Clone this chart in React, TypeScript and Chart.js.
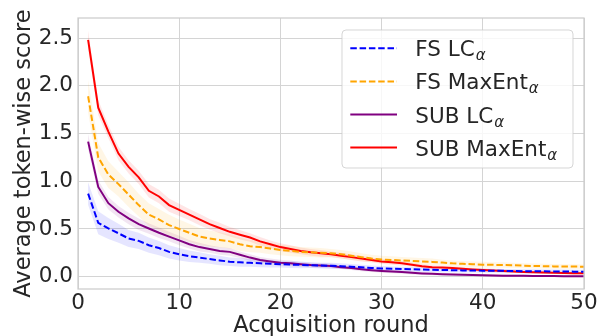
import React, { useEffect, useRef } from "react";
import { Chart, registerables } from "chart.js";

Chart.register(...registerables);

const rounds = [
  1, 2, 3, 4, 5, 6, 7, 8, 9, 10, 11, 12, 13, 14, 15, 16, 17, 18, 19, 20,
  21, 22, 23, 24, 25, 26, 27, 28, 29, 30, 31, 32, 33, 34, 35, 36, 37, 38, 39, 40,
  41, 42, 43, 44, 45, 46, 47, 48, 49, 50,
];

const xTicks = [0, 10, 20, 30, 40, 50];
const yTicks = [0, 0.5, 1.0, 1.5, 2.0, 2.5];

const seriesNames = ["FS LC", "FS MaxEnt", "SUB LC", "SUB MaxEnt"];
const seriesSub = "α";

const fsLC = [
  0.87, 0.565, 0.505, 0.455, 0.40, 0.375, 0.33, 0.30, 0.26, 0.235,
  0.215, 0.20, 0.185, 0.17, 0.157, 0.15, 0.145, 0.14, 0.135, 0.13,
  0.127, 0.124, 0.12, 0.117, 0.115, 0.11, 0.105, 0.098, 0.092, 0.086,
  0.083, 0.08, 0.077, 0.075, 0.073, 0.07, 0.068, 0.066, 0.065, 0.063,
  0.062, 0.061, 0.06, 0.058, 0.057, 0.056, 0.055, 0.054, 0.053, 0.052,
];
const fsLCStd = [
  0.12, 0.12, 0.11, 0.10, 0.09, 0.085, 0.08, 0.075, 0.07, 0.065,
  0.06, 0.055, 0.05, 0.05, 0.045, 0.045, 0.04, 0.04, 0.04, 0.035,
  0.035, 0.035, 0.03, 0.03, 0.03, 0.03, 0.028, 0.028, 0.026, 0.026,
  0.025, 0.025, 0.024, 0.024, 0.023, 0.023, 0.022, 0.022, 0.021, 0.021,
  0.02, 0.02, 0.02, 0.02, 0.02, 0.02, 0.02, 0.02, 0.02, 0.02,
];

const fsMaxEnt = [
  1.89, 1.25, 1.07, 0.97, 0.86, 0.75, 0.65, 0.60, 0.54, 0.50,
  0.46, 0.42, 0.40, 0.385, 0.37, 0.34, 0.32, 0.31, 0.295, 0.28,
  0.27, 0.26, 0.255, 0.25, 0.245, 0.235, 0.22, 0.205, 0.19, 0.18,
  0.175, 0.17, 0.165, 0.16, 0.155, 0.148, 0.14, 0.135, 0.13, 0.126,
  0.124, 0.122, 0.12, 0.115, 0.112, 0.11, 0.108, 0.107, 0.106, 0.105,
];
const fsMaxEntStd = [
  0.17, 0.15, 0.14, 0.13, 0.13, 0.12, 0.12, 0.11, 0.11, 0.10,
  0.095, 0.09, 0.085, 0.08, 0.075, 0.07, 0.065, 0.06, 0.06, 0.055,
  0.055, 0.05, 0.05, 0.05, 0.045, 0.045, 0.045, 0.04, 0.04, 0.04,
  0.04, 0.035, 0.035, 0.035, 0.035, 0.03, 0.03, 0.03, 0.03, 0.03,
  0.028, 0.028, 0.026, 0.026, 0.025, 0.025, 0.024, 0.024, 0.023, 0.023,
];

const subLC = [
  1.415, 0.94, 0.77, 0.68, 0.61, 0.55, 0.505, 0.46, 0.42, 0.38,
  0.34, 0.31, 0.29, 0.27, 0.26, 0.23, 0.20, 0.175, 0.16, 0.147,
  0.14, 0.13, 0.122, 0.117, 0.112, 0.10, 0.09, 0.078, 0.068, 0.06,
  0.054, 0.048, 0.04, 0.034, 0.03, 0.026, 0.022, 0.019, 0.017, 0.015,
  0.013, 0.011, 0.01, 0.009, 0.008, 0.007, 0.006, 0.005, 0.005, 0.004,
];
const subLCStd = [
  0.08, 0.07, 0.065, 0.06, 0.06, 0.06, 0.055, 0.055, 0.05, 0.05,
  0.045, 0.045, 0.04, 0.04, 0.04, 0.035, 0.035, 0.03, 0.03, 0.03,
  0.03, 0.025, 0.025, 0.025, 0.025, 0.02, 0.02, 0.02, 0.02, 0.02,
  0.018, 0.018, 0.016, 0.016, 0.015, 0.015, 0.014, 0.014, 0.013, 0.013,
  0.012, 0.012, 0.011, 0.011, 0.01, 0.01, 0.01, 0.01, 0.01, 0.01,
];

const subMaxEnt = [
  2.48, 1.77, 1.52, 1.29, 1.15, 1.04, 0.90, 0.84, 0.75, 0.70,
  0.65, 0.60, 0.55, 0.51, 0.47, 0.44, 0.41, 0.37, 0.34, 0.31,
  0.29, 0.27, 0.255, 0.245, 0.235, 0.22, 0.205, 0.19, 0.175, 0.16,
  0.15, 0.14, 0.125, 0.11, 0.10, 0.095, 0.09, 0.082, 0.076, 0.07,
  0.065, 0.06, 0.055, 0.05, 0.046, 0.043, 0.04, 0.038, 0.036, 0.035,
];
const subMaxEntStd = [
  0.10, 0.08, 0.07, 0.07, 0.07, 0.07, 0.07, 0.07, 0.07, 0.065,
  0.06, 0.06, 0.055, 0.055, 0.05, 0.05, 0.045, 0.045, 0.04, 0.04,
  0.04, 0.035, 0.035, 0.035, 0.03, 0.03, 0.03, 0.03, 0.025, 0.025,
  0.025, 0.025, 0.02, 0.02, 0.02, 0.02, 0.02, 0.02, 0.018, 0.018,
  0.016, 0.016, 0.015, 0.015, 0.014, 0.014, 0.013, 0.013, 0.012, 0.012,
];

const TEXT = "#262626";
const GRID = "#d4d4d4";
const FONT = '"DejaVu Sans"';

const seriesDefs = [
  { name: seriesNames[0], values: fsLC, std: fsLCStd, color: "#0000ff", band: "rgba(0,0,255,0.1)", dash: [6.5, 2.8] },
  { name: seriesNames[1], values: fsMaxEnt, std: fsMaxEntStd, color: "#ffa500", band: "rgba(255,165,0,0.1)", dash: [6.5, 2.8] },
  { name: seriesNames[2], values: subLC, std: subLCStd, color: "#800080", band: "rgba(128,0,128,0.1)", dash: [] as number[] },
  { name: seriesNames[3], values: subMaxEnt, std: subMaxEntStd, color: "#ff0000", band: "rgba(255,0,0,0.1)", dash: [] as number[] },
];

const framePlugin = {
  id: "frame",
  afterDatasetsDraw(chart: any) {
    const { ctx, chartArea } = chart;
    ctx.save();
    ctx.strokeStyle = "#cccccc";
    ctx.lineWidth = 1.25;
    ctx.strokeRect(chartArea.left, chartArea.top, chartArea.right - chartArea.left, chartArea.bottom - chartArea.top);
    ctx.restore();
  },
};

const legendPlugin = {
  id: "mathLegend",
  afterDraw(chart: any) {
    const { ctx, chartArea } = chart;
    const boxW = 231;
    const boxH = 138;
    const left = chartArea.right - 11 - boxW;
    const top = chartArea.top + 12;
    ctx.save();
    ctx.beginPath();
    if (ctx.roundRect) ctx.roundRect(left, top, boxW, boxH, 4);
    else ctx.rect(left, top, boxW, boxH);
    ctx.fillStyle = "rgba(255,255,255,0.8)";
    ctx.fill();
    ctx.strokeStyle = "rgba(204,204,204,0.8)";
    ctx.lineWidth = 1;
    ctx.stroke();
    seriesDefs.forEach((s, i) => {
      const y = top + 18.3 + i * 33.1;
      ctx.beginPath();
      ctx.setLineDash(s.dash);
      ctx.strokeStyle = s.color;
      ctx.lineWidth = 2;
      ctx.moveTo(left + 8.3, y);
      ctx.lineTo(left + 55, y);
      ctx.stroke();
      ctx.setLineDash([]);
      ctx.fillStyle = TEXT;
      ctx.textBaseline = "alphabetic";
      ctx.textAlign = "left";
      ctx.font = `21.5px ${FONT}`;
      const tx = left + 73.3;
      ctx.fillText(s.name, tx, y + 8);
      const w = ctx.measureText(s.name).width;
      ctx.font = `italic 15px ${FONT}`;
      ctx.fillText(seriesSub, tx + w + 1, y + 12);
    });
    ctx.restore();
  },
};

export default function App() {
  const canvasRef = useRef<HTMLCanvasElement | null>(null);

  useEffect(() => {
    const canvas = canvasRef.current;
    if (!canvas) return;
    const datasets: any[] = [];
    seriesDefs.forEach((s) => {
      datasets.push({
        label: s.name + " lower",
        data: rounds.map((x, i) => ({ x, y: s.values[i] - s.std[i] })),
        borderColor: "transparent",
        borderWidth: 0,
        pointRadius: 0,
        fill: false,
        order: 5,
      });
      datasets.push({
        label: s.name + " upper",
        data: rounds.map((x, i) => ({ x, y: s.values[i] + s.std[i] })),
        borderColor: "transparent",
        backgroundColor: s.band,
        borderWidth: 0,
        pointRadius: 0,
        fill: "-1",
        order: 5,
      });
    });
    seriesDefs.forEach((s) => {
      datasets.push({
        label: s.name,
        data: rounds.map((x, i) => ({ x, y: s.values[i] })),
        borderColor: s.color,
        backgroundColor: s.color,
        borderWidth: 2,
        borderDash: s.dash,
        pointRadius: 0,
        fill: false,
        tension: 0,
        order: 0,
      });
    });

    const chart = new Chart(canvas, {
      type: "line",
      data: { datasets },
      plugins: [framePlugin, legendPlugin],
      options: {
        animation: false,
        responsive: false,
        events: [],
        layout: { padding: { top: 18, right: 19, left: 0, bottom: 0 } },
        plugins: {
          legend: { display: false },
          tooltip: { enabled: false },
        },
        scales: {
          x: {
            type: "linear",
            min: 0,
            max: 50,
            afterBuildTicks: (scale: any) => {
              scale.ticks = xTicks.map((v) => ({ value: v }));
            },
            afterFit: (scale: any) => {
              scale.height = 63;
            },
            grid: { color: GRID, lineWidth: 1, drawTicks: false },
            border: { display: false },
            ticks: {
              color: TEXT,
              font: { family: FONT, size: 21.5 },
              padding: 2,
              maxRotation: 0,
              autoSkip: false,
              callback: (v: any) => String(v),
            },
            title: {
              display: true,
              text: "Acquisition round",
              color: TEXT,
              font: { family: FONT, size: 22.5 },
              padding: { top: 0, bottom: 12.5 },
            },
          },
          y: {
            type: "linear",
            min: -0.129,
            max: 2.71,
            afterBuildTicks: (scale: any) => {
              scale.ticks = yTicks.map((v) => ({ value: v }));
            },
            afterFit: (scale: any) => {
              scale.width = 78;
            },
            grid: { color: GRID, lineWidth: 1, drawTicks: false },
            border: { display: false },
            ticks: {
              color: TEXT,
              font: { family: FONT, size: 21.5 },
              padding: 5,
              autoSkip: false,
              callback: (v: any) => Number(v).toFixed(1),
            },
            title: {
              display: true,
              text: "Average token-wise score",
              color: TEXT,
              font: { family: FONT, size: 22.5 },
              padding: { top: 10.5, bottom: 0 },
            },
          },
        },
      },
    });
    return () => chart.destroy();
  }, []);

  return (
    <div style={{ position: "absolute", left: 0, top: 0, width: 603, height: 336, overflow: "hidden", background: "#ffffff" }}>
      <canvas ref={canvasRef} width={603} height={352} style={{ display: "block" }} />
    </div>
  );
}
